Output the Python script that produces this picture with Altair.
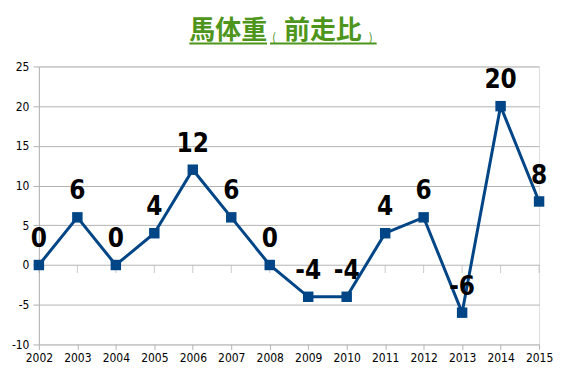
import altair as alt
import pandas as pd

years = ["2002", "2003", "2004", "2005", "2006", "2007", "2008",
         "2009", "2010", "2011", "2012", "2013", "2014", "2015"]
values = [0, 6, 0, 4, 12, 6, 0, -4, -4, 4, 6, -6, 20, 8]
y_ticks = [-10, -5, 0, 5, 10, 15, 20, 25]

title_main = "馬体重"
title_sub = "前走比"
title_color = "#4e951c"
line_color = "#004586"

df = pd.DataFrame({"year": years, "value": values, "label": [str(v) for v in values],
                   "zero": [0] * len(years)})

W, H = 502, 279
FONT = "DejaVu Sans Condensed"

xaxis = alt.Axis(title=None, labelAngle=0, labelFont=FONT,
                 labelFontSize=12, labelColor="#000000", domain=False,
                 tickColor="#b3b3b3", tickSize=5, labelPadding=3, grid=False,
                 labelOverlap=False)
yaxis = alt.Axis(title=None, values=y_ticks, labelFont=FONT,
                 labelFontSize=12, labelColor="#000000", domainColor="#b3b3b3",
                 tickColor="#b3b3b3", tickSize=6, labelPadding=4,
                 gridColor="#b3b3b3", gridWidth=1, grid=True,
                 labelOverlap=False, labelExpr="'' + datum.value")
xscale = alt.Scale(type="point", padding=0)
yscale = alt.Scale(domain=[-10, 25], nice=False)

def X():
    return alt.X("year:O", scale=xscale, axis=xaxis)

def Y(field="value:Q"):
    return alt.Y(field, scale=yscale, axis=yaxis)

base = alt.Chart(df)

line = base.mark_line(color=line_color, strokeWidth=3).encode(x=X(), y=Y())
pts = base.mark_point(shape="square", filled=True, size=110, color=line_color, opacity=1).encode(
    x=X(), y=Y())
zero_ticks = base.mark_tick(color="#b3b3b3", orient="vertical", size=8, thickness=1, yOffset=4).encode(
    x=X(), y=Y("zero:Q"))
labels = base.mark_text(font=FONT, fontWeight="bold", fontSize=26,
                        color="#000000", dy=-26, baseline="middle").encode(
    x=X(), y=Y(), text="label:N")

tdf = pd.DataFrame({"a": [0]})
tbase = alt.Chart(tdf)
t1 = tbase.mark_text(text=title_main, font="Noto Sans CJK JP", fontWeight="bold", fontSize=26,
                     color=title_color, baseline="middle").encode(x=alt.value(190), y=alt.value(-36))
t2 = tbase.mark_text(text="(", font="Noto Sans CJK JP", fontSize=12,
                     color=title_color, baseline="middle").encode(x=alt.value(236), y=alt.value(-29))
t3 = tbase.mark_text(text=title_sub, font="Noto Sans CJK JP", fontWeight="bold", fontSize=26,
                     color=title_color, baseline="middle").encode(x=alt.value(285), y=alt.value(-36))
t4 = tbase.mark_text(text=")", font="Noto Sans CJK JP", fontSize=12,
                     color=title_color, baseline="middle").encode(x=alt.value(333), y=alt.value(-29))
u1 = tbase.mark_rule(color=title_color, strokeWidth=2).encode(
    x=alt.value(151), x2=alt.value(229), y=alt.value(-23))
u2 = tbase.mark_rule(color=title_color, strokeWidth=2).encode(
    x=alt.value(232), x2=alt.value(339), y=alt.value(-23))

chart = alt.layer(line, zero_ticks, pts, labels, t1, t2, t3, t4, u1, u2).properties(
    width=W, height=H,
    autosize=alt.AutoSizeParams(type="none"),
    padding={"left": 31, "top": 58, "right": 20, "bottom": 25},
).configure_view(stroke="#b3b3b3", strokeWidth=1).configure(background="white")

chart.save("out.html", embed_options={"renderer": "svg", "actions": False})
